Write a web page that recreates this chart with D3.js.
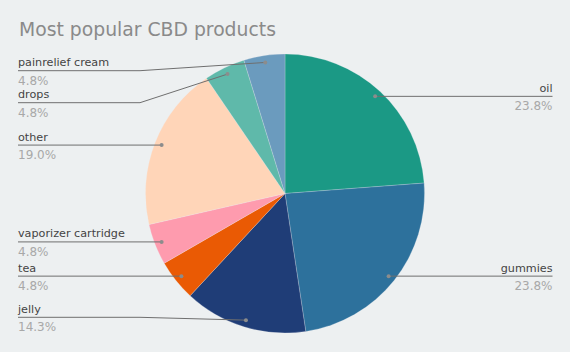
<!DOCTYPE html>
<html><head><meta charset="utf-8">
<script src="https://cdn.jsdelivr.net/npm/d3@7"></script>
<style>
html,body{margin:0;padding:0;background:#edf0f1;}
svg{display:block;font-family:"DejaVu Sans",Verdana,sans-serif;}
</style></head>
<body><svg id="chart" width="570" height="352"></svg>
<script>
const categories = ["oil","gummies","jelly","tea","vaporizer cartridge","other","drops","painrelief cream"];
const values = [5,5,3,1,1,4,1,1];
const colors = ["#1b9985","#2d719c","#1f3d77","#ea5a04","#fe9bae","#ffd5b8","#5fb9aa","#6b9bbe"];
const title = "Most popular CBD products";

const W=570,H=352, cx=285, cy=193.5, R=139.5;
const svg=d3.select("#chart");
svg.append("rect").attr("width",W).attr("height",H).attr("fill","#edf0f1");
svg.append("text").attr("x",19).attr("y",36).attr("font-size",18.8).attr("fill","#8a8a8a").text(title);

const total=d3.sum(values);
const data=categories.map((c,i)=>({name:c,value:values[i],color:colors[i]}));
const pie=d3.pie().value(d=>d.value).sort(null);
const arcs=pie(data);
const arc=d3.arc().innerRadius(0).outerRadius(R);
const dotArc=d3.arc().innerRadius(R*0.95).outerRadius(R*0.95);
const g=svg.append("g").attr("transform",`translate(${cx},${cy})`);
g.selectAll("path").data(arcs).join("path").attr("d",arc).attr("fill",d=>d.data.color)
 .attr("stroke","#edf0f1").attr("stroke-width",0.4).attr("stroke-opacity",0.6);

const fmt=v=>(v/total*100).toFixed(1)+"%";
const items=arcs.map(a=>{const [x,y]=dotArc.centroid(a);return {a,x:x+cx,y:y+cy,right:x>0};});
function layout(list,minY,maxY,gap){
  list.sort((p,q)=>p.y-q.y);
  list.forEach(d=>d.ly=Math.min(Math.max(d.y,minY),maxY));
  for(let i=1;i<list.length;i++) if(list[i].ly<list[i-1].ly+gap) list[i].ly=list[i-1].ly+gap;
  for(let i=list.length-1;i>=0;i--){ if(list[i].ly>maxY) list[i].ly=maxY; if(i<list.length-1 && list[i].ly>list[i+1].ly-gap) list[i].ly=list[i+1].ly-gap; }
}
const left=items.filter(d=>!d.right), right=items.filter(d=>d.right);
layout(left,70.7,317.3,32); layout(right,70.7,317.3,32);

const lab=svg.append("g");
items.forEach(d=>{
  const edgeX=d.right?552.5:18, elbowX=d.right?430:140;
  const pts = Math.abs(d.ly-d.y)<0.5 ? [[d.x,d.y],[edgeX,d.ly]] : [[d.x,d.y],[elbowX,d.ly],[edgeX,d.ly]];
  lab.append("path").attr("d",d3.line()(pts)).attr("fill","none").attr("stroke","#6f6f6f").attr("stroke-width",1);
  lab.append("circle").attr("cx",d.x).attr("cy",d.y).attr("r",2).attr("fill","#8c8c8c");
  const anchor=d.right?"end":"start";
  lab.append("text").attr("x",edgeX).attr("y",d.ly-4.5).attr("text-anchor",anchor).attr("font-size",11.2).attr("fill","#444").text(d.a.data.name);
  lab.append("text").attr("x",edgeX).attr("y",d.ly+13.8).attr("text-anchor",anchor).attr("font-size",12).attr("fill","#a8a8a8").text(fmt(d.a.data.value));
});
</script></body></html>
